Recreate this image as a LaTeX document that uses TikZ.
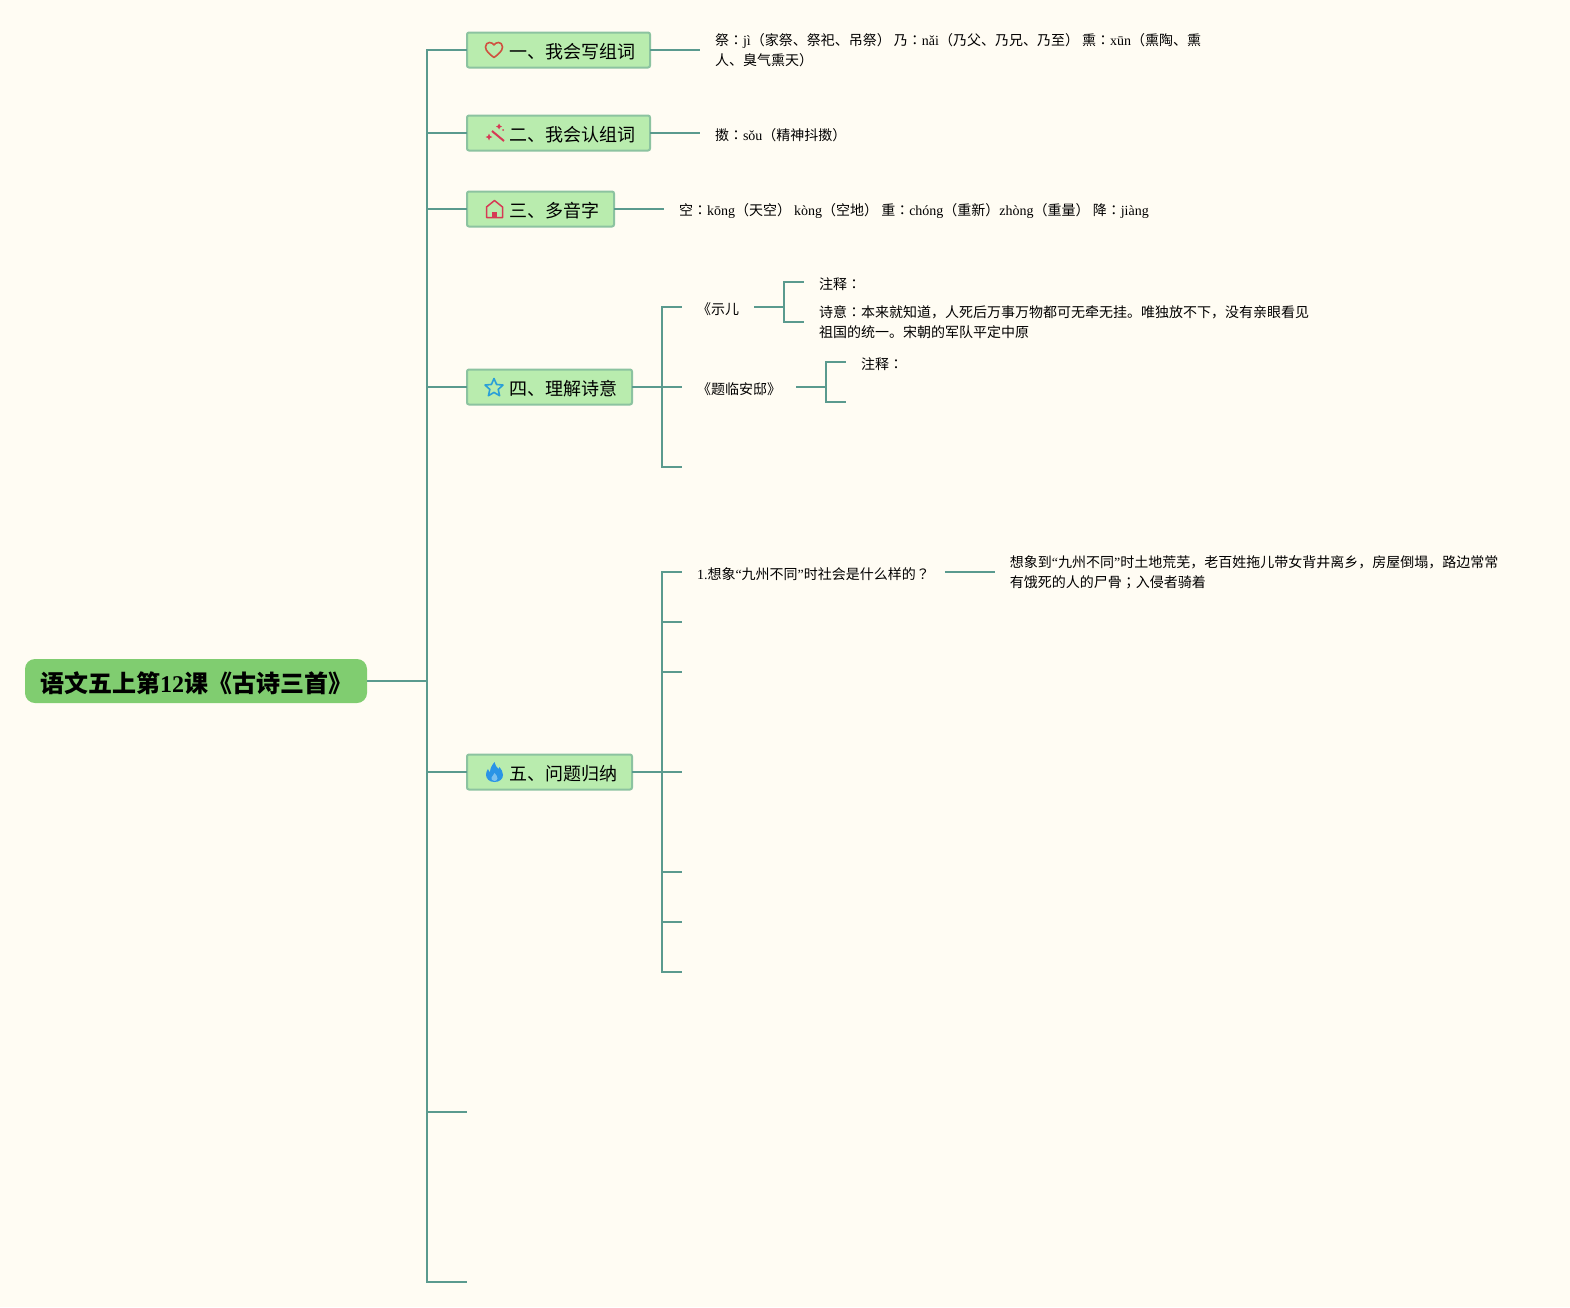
\documentclass[tikz,border=0pt]{standalone}
\usepackage{fontspec}
\usetikzlibrary{positioning}
\setmainfont{Noto Sans CJK SC}
\newfontfamily\latfont{Liberation Serif}
\newfontfamily\tcfont{Noto Sans CJK TC}
\newcommand{\lat}[1]{{\latfont #1}}
\newcommand{\tc}[1]{{\tcfont #1}}
\definecolor{paper}{HTML}{FFFCF3}
\definecolor{linkc}{HTML}{5A9A8E}
\definecolor{rootc}{HTML}{80CD70}
\definecolor{boxc}{HTML}{B9ECAE}
\definecolor{boxline}{HTML}{8CC3A0}
\definecolor{iconred}{HTML}{D0503F}
\definecolor{iconpink}{HTML}{D63A55}
\definecolor{iconblue}{HTML}{2A9FD8}
\definecolor{iconfire}{HTML}{2A94E6}
\definecolor{iconfirein}{HTML}{7CC0EE}
\tikzset{
  iconheart/.pic={\draw[iconred,line width=1.6pt,line join=round]
    (0,7.5) .. controls (-4,4.5) and (-8.5,1) .. (-8.5,-3) .. controls (-8.5,-6) and (-6.5,-7.5) .. (-4.5,-7.5)
    .. controls (-2.5,-7.5) and (-1,-6.5) .. (0,-5) .. controls (1,-6.5) and (2.5,-7.5) .. (4.5,-7.5)
    .. controls (6.5,-7.5) and (8.5,-6) .. (8.5,-3) .. controls (8.5,1) and (4,4.5) .. (0,7.5) -- cycle;},
  iconwand/.pic={\draw[iconpink,line width=2pt] (-3,-2) -- (9,8);
    \fill[iconpink] (4,-9.5) -- (5,-7.5) -- (7,-6.5) -- (5,-5.5) -- (4,-3.5) -- (3,-5.5) -- (1,-6.5) -- (3,-7.5) -- cycle;
    \fill[iconpink] (-6,0.5) -- (-5,3) -- (-2.5,4) -- (-5,5) -- (-6,7.5) -- (-7,5) -- (-9.5,4) -- (-7,3) -- cycle;
    \fill[iconpink] (8,-3) circle (1);},
  iconhouse/.pic={\draw[iconpink,line width=1.5pt,line join=round]
    (-8,8.5) -- (-8,-2) -- (0,-8.5) -- (8,-2) -- (8,8.5) -- cycle;
    \fill[iconpink] (-2.5,2.5) rectangle (2.5,8.5);},
  iconstar/.pic={\draw[iconblue,line width=1.6pt,line join=round]
    (0,-9.5) -- (2.59,-3.56) -- (9.03,-2.94) -- (4.18,1.36) -- (5.58,7.69) -- (0,4.4)
    -- (-5.58,7.69) -- (-4.18,1.36) -- (-9.03,-2.94) -- (-2.59,-3.56) -- cycle;},
  iconfire/.pic={\fill[iconfire]
    (0,10) .. controls (-5.5,10) and (-8.5,6.5) .. (-8.5,2.5) .. controls (-8.5,0) and (-7.5,-1.5) .. (-6.5,-3)
    .. controls (-6,-1.5) and (-5.5,-0.5) .. (-4.5,0) .. controls (-4.5,-4) and (-2,-7.5) .. (0,-10)
    .. controls (0.5,-7) and (2,-5) .. (4,-3) .. controls (4.5,-3.5) and (4.8,-4.2) .. (5,-5)
    .. controls (7,-2.5) and (8.5,0) .. (8.5,3) .. controls (8.5,7) and (5,10) .. (0,10) -- cycle;
    \fill[iconfirein] (0,9) .. controls (-2.5,9) and (-3.5,7) .. (-3,5.5) .. controls (-2.5,4) and (-0.5,3) .. (0,1)
    .. controls (1,3) and (3.5,4) .. (3,6.5) .. controls (2.7,8) and (1.5,9) .. (0,9) -- cycle;}
}
\begin{document}
\begin{tikzpicture}[
  x=1pt, y=-1pt,
  node distance=50pt,
  rootnode/.style={fill=rootc,rounded corners=10pt,anchor=east,inner xsep=15pt,inner ysep=0pt,
    minimum height=44pt,outer sep=0pt,font=\fontsize{24}{28}\selectfont\bfseries,
    execute at begin node={\rule{0pt}{26pt}},execute at end node={\rule[-2.8pt]{0pt}{2.8pt}}},
  boxnode/.style={draw=boxline,fill=boxc,line width=2pt,rounded corners=2pt,anchor=west,inner xsep=14.5pt,
    inner ysep=0pt,minimum height=35pt,outer sep=0pt,font=\fontsize{18}{22}\selectfont,
    execute at begin node={\rule{0pt}{20pt}},execute at end node={\rule[-2.4pt]{0pt}{2.4pt}}},
  textnode/.style={align=left,inner xsep=15pt,inner ysep=0pt,outer sep=0pt,font=\fontsize{14}{20}\selectfont,
    execute at begin node={\rule{0pt}{15.5pt}},execute at end node={\rule[-1.5pt]{0pt}{1.5pt}}},
  link/.style={draw=linkc,line width=2pt},
  elbow/.style={to path={(\tikztostart) -- ([xshift=#1]\tikztostart) |- (\tikztotarget)}},
  elbow/.default=30pt
]

\useasboundingbox[fill=paper] (0,0) rectangle (1570,1307);

\node[rootnode] (root) at (367,681) {语文五上第\lat{12}课《古诗三首》};

\node[boxnode] (one) at (467,50) {\hspace*{28pt}一、我会写组词};
\node[boxnode] (two) at (467,133) {\hspace*{28pt}二、我会认组词};
\node[boxnode] (three) at (467,209) {\hspace*{28pt}三、多音字};
\node[boxnode] (four) at (467,387) {\hspace*{28pt}四、理解诗意};
\node[boxnode] (five) at (467,772) {\hspace*{28pt}五、问题归纳};
\coordinate (six) at (467,1112);
\coordinate (seven) at (467,1282);

\pic at (494,50) {iconheart};
\pic at (495,133) {iconwand};
\pic at (494.5,209) {iconhouse};
\pic at (494,388) {iconstar};
\pic at (494.5,772) {iconfire};

\node[textnode,right=of one] (oneword) {祭\tc{：}\lat{jì}（家祭、祭祀、吊祭） 乃\tc{：}\lat{nǎi}（乃父、乃兄、乃至） 熏\tc{：}\lat{xūn}（熏陶、熏\\人、臭气熏天）};
\node[textnode,right=of two] (twoword) {擞\tc{：}\lat{sǒu}（精神抖擞）};
\node[textnode,right=of three] (threeword) {空\tc{：}\lat{kōng}（天空） \lat{kòng}（空地） 重\tc{：}\lat{chóng}（重新）\lat{zhòng}（重量） 降\tc{：}\lat{jiàng}};

\node[textnode,right=of four,yshift=80pt] (shier) {《示儿};
\node[textnode,right=of four] (tilin) {《题临安邸》};
\coordinate[right=of four,yshift=-80pt] (fourend);
\node[textnode,right=of shier,yshift=25pt] (shinote) {注释\tc{：}};
\node[textnode,right=of shier,yshift=-15pt] (shimean) {诗意\tc{：}本来就知道，人死后万事万物都可无牵无挂。唯独放不下，没有亲眼看见\\祖国的统一。宋朝的军队平定中原};
\node[textnode,right=of tilin,yshift=25pt] (tinote) {注释\tc{：}};
\coordinate[right=of tilin,yshift=-15pt] (timean);

\node[textnode,right=of five,yshift=200pt] (askone) {\lat{1.}想象\lat{“}九州不同\lat{”}时社会是什么样的\tc{？}};
\node[textnode,right=of askone] (ansone) {想象到\lat{“}九州不同\lat{”}时土地荒芜，老百姓拖儿带女背井离乡，房屋倒塌，路边常常\\有饿死的人的尸骨\tc{；}入侵者骑着};

\foreach \to in {one,two,three,four,five,six,seven}
  \path[link] (root.east) edge[elbow=60pt] (\to.west);
\path[link] (one.east) edge (oneword.west);
\path[link] (two.east) edge (twoword.west);
\path[link] (three.east) edge (threeword.west);
\foreach \to in {shier,tilin,fourend}
  \path[link] (four.east) edge[elbow] (\to);
\path[link] (shier.east) edge[elbow] (shinote.west);
\path[link] (shier.east) edge[elbow] (shimean.west);
\path[link] (tilin.east) edge[elbow] (tinote.west);
\path[link] (tilin.east) edge[elbow] (timean);

% stubs of the fifth branch
\path[link] (five.east) edge[elbow] (askone.west);
\foreach \y in {150,100,0,-100,-150,-200}{
  \coordinate[right=of five,yshift=\y pt] (stub\y);
  \path[link] (five.east) edge[elbow] (stub\y);
}
\path[link] (askone.east) edge (ansone.west);

\end{tikzpicture}
\end{document}
